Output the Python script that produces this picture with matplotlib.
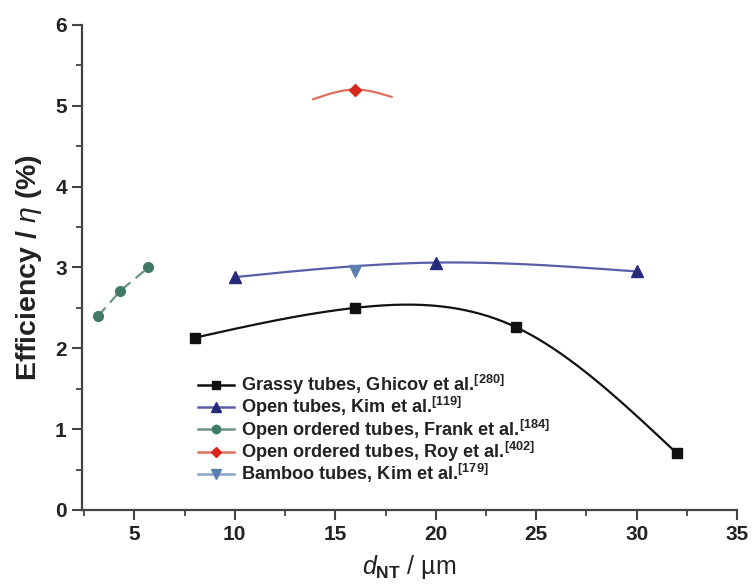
import numpy as np
import matplotlib
matplotlib.use("Agg")
import matplotlib.pyplot as plt
from matplotlib.ticker import MultipleLocator
from matplotlib.lines import Line2D

plt.rcParams['font.family'] = ['Liberation Sans', 'DejaVu Sans']
plt.rcParams['mathtext.fontset'] = 'custom'
plt.rcParams['mathtext.rm'] = 'Liberation Sans:bold'
plt.rcParams['mathtext.bf'] = 'Liberation Sans:bold'
plt.rcParams['mathtext.it'] = 'Liberation Sans:italic'

# ---- data ----
grassy_x = [8, 16, 24, 32]
grassy_y = [2.13, 2.50, 2.26, 0.70]
open_x = [10, 20, 30]
open_y = [2.88, 3.06, 2.95]
frank_x = [3.2, 4.3, 5.7]
frank_y = [2.40, 2.71, 3.00]
roy_x = [16]
roy_y = [5.20]
roy_line_x = [13.9, 16, 17.8]
roy_line_y = [5.08, 5.20, 5.11]
bamboo_x = [16]
bamboo_y = [2.96]

labels = [
    r"Grassy tubes, Ghicov et al.$^{[280]}$",
    r"Open tubes, Kim et al.$^{[119]}$",
    r"Open ordered tubes, Frank et al.$^{[184]}$",
    r"Open ordered tubes, Roy et al.$^{[402]}$",
    r"Bamboo tubes, Kim et al.$^{[179]}$",
]


def natural_spline(x, y, n=200):
    x = np.asarray(x, float); y = np.asarray(y, float)
    m = len(x)
    h = np.diff(x)
    A = np.zeros((m, m)); b = np.zeros(m)
    A[0, 0] = 1; A[-1, -1] = 1
    for i in range(1, m - 1):
        A[i, i - 1] = h[i - 1]
        A[i, i] = 2 * (h[i - 1] + h[i])
        A[i, i + 1] = h[i]
        b[i] = 6 * ((y[i + 1] - y[i]) / h[i] - (y[i] - y[i - 1]) / h[i - 1])
    M = np.linalg.solve(A, b)
    xs = np.linspace(x[0], x[-1], n)
    ys = np.empty_like(xs)
    for k, xv in enumerate(xs):
        i = min(np.searchsorted(x, xv) - 1, m - 2)
        i = max(i, 0)
        t0 = x[i + 1] - xv; t1 = xv - x[i]
        ys[k] = (M[i] * t0 ** 3 + M[i + 1] * t1 ** 3) / (6 * h[i]) \
            + (y[i] / h[i] - M[i] * h[i] / 6) * t0 \
            + (y[i + 1] / h[i] - M[i + 1] * h[i] / 6) * t1
    return xs, ys


fig = plt.figure(figsize=(7.53, 5.88), dpi=100)
ax = fig.add_axes([0.109, 0.1327, 0.870, 0.825])

black = '#111111'
blue_m = '#262a7a'; blue_l = '#5a5ea8'
green_m = '#3f7a66'; green_l = '#6f9488'
red_m = '#d9261e'; red_l = '#e0705e'
bam_m = '#5a7fb0'; bam_l = '#8aa3c8'

xs, ys = natural_spline(grassy_x, grassy_y)
ax.plot(xs, ys, color=black, lw=1.6, zorder=2)
ax.plot(grassy_x, grassy_y, 's', color=black, ms=7, zorder=3)

xs, ys = natural_spline(open_x, open_y)
ax.plot(xs, ys, color=blue_l, lw=1.6, zorder=2)
ax.plot(open_x, open_y, '^', color=blue_m, ms=8, zorder=3)

ax.plot(frank_x, frank_y, '--', color=green_l, lw=1.6, dashes=(5, 3), zorder=2)
ax.plot(frank_x, frank_y, 'o', color=green_m, ms=7, zorder=3)

xs, ys = natural_spline(roy_line_x, roy_line_y)
ax.plot(xs, ys, color=red_l, lw=1.6, zorder=2)
ax.plot(roy_x, roy_y, 'D', color=red_m, ms=6, zorder=3)

ax.plot(bamboo_x, bamboo_y, 'v', color=bam_m, ms=8, zorder=3)

handles = [
    Line2D([], [], color=black, lw=1.8, marker='s', ms=6),
    Line2D([], [], color=blue_l, lw=1.8, marker='^', ms=7, mfc=blue_m, mec=blue_m),
    Line2D([], [], color=green_l, lw=1.8, marker='o', ms=6, mfc=green_m, mec=green_m),
    Line2D([], [], color=red_l, lw=1.8, marker='D', ms=5, mfc=red_m, mec=red_m),
    Line2D([], [], color=bam_l, lw=1.8, marker='v', ms=7, mfc=bam_m, mec=bam_m),
]
leg = fig.legend(handles, labels, loc='upper left',
                 bbox_to_anchor=(198 / 753, 1 - 373 / 588),
                 frameon=False, prop={'weight': 'bold', 'size': 13.1},
                 handlelength=2.0, handletextpad=0.35, labelspacing=-0.1,
                 borderaxespad=0, borderpad=0)
for t in leg.get_texts():
    t.set_color('#222222')

ax.set_xlim(2.4, 35)
ax.set_ylim(0, 6)
ax.xaxis.set_major_locator(MultipleLocator(5))
ax.xaxis.set_minor_locator(MultipleLocator(2.5))
ax.yaxis.set_major_locator(MultipleLocator(1))
ax.yaxis.set_minor_locator(MultipleLocator(0.5))

for s in ['top', 'right']:
    ax.spines[s].set_visible(False)
for s in ['left', 'bottom']:
    ax.spines[s].set_color('#444444')
    ax.spines[s].set_linewidth(1.6)

ax.tick_params(which='major', direction='out', length=7, width=1.5, color='#444444',
               labelsize=15, labelcolor='#222222', pad=4)
ax.tick_params(which='minor', direction='out', length=4, width=1.3, color='#444444')
for lab in ax.get_xticklabels() + ax.get_yticklabels():
    lab.set_fontweight('bold')

ax.set_ylabel(r"Efficiency / $\mathit{\eta}$ (%)", fontsize=20.5, fontweight='bold',
              color='#222222', labelpad=8)
ax.set_xlabel(r"$\mathit{d}_{\mathrm{NT}}$ / µm", fontsize=18, color='#222222', labelpad=6)

fig.savefig('out.png', dpi=100)
